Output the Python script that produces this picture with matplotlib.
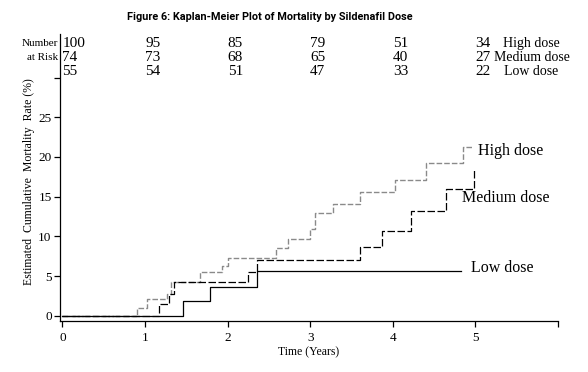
import numpy as np
import matplotlib
matplotlib.use("Agg")
import matplotlib.pyplot as plt

# step curves (time in years, cumulative mortality in %)
high_t = [0, 0.90, 1.02, 1.27, 1.31, 1.66, 1.93, 2.00, 2.59, 2.73, 3.00, 3.06, 3.27, 3.60, 4.03, 4.40, 4.85, 4.97]
high_y = [0, 1.0, 2.1, 2.7, 4.3, 5.5, 6.3, 7.35, 8.5, 9.7, 10.9, 12.95, 14.1, 15.55, 17.05, 19.25, 21.2, 21.2]

medium_t = [0, 1.17, 1.29, 1.35, 2.25, 2.36, 3.60, 3.87, 4.22, 4.64, 4.98]
medium_y = [0, 1.5, 2.7, 4.3, 5.5, 7.05, 8.65, 10.7, 13.15, 16.0, 18.5]

low_t = [0, 1.46, 1.79, 2.36, 4.83]
low_y = [0, 1.9, 3.7, 5.7, 5.7]

# number at risk table
risk_times = [0, 1, 2, 3, 4, 5]
risk_high = [100, 95, 85, 79, 51, 34]
risk_medium = [74, 73, 68, 65, 40, 27]
risk_low = [55, 54, 51, 47, 33, 22]
group_names = ["High dose", "Medium dose", "Low dose"]

plt.rcParams.update({
    'font.family': ['Liberation Serif', 'DejaVu Serif'],
    'font.size': 9,
})

fig = plt.figure(figsize=(5.88, 3.72), dpi=100)
ax = fig.add_axes([0.102, 0.138, 0.847, 0.771])

ax.step(high_t, high_y, where='post', color='#8a8a8a', lw=1.0, dashes=(4, 1.5))
ax.step(medium_t, medium_y, where='post', color='black', lw=0.9, dashes=(6, 2))
ax.step(low_t, low_y, where='post', color='black', lw=0.9)

ax.set_xlim(-0.03, 6)
ax.set_ylim(-0.6, 35.5)
ax.set_xticks(range(0, 7))
ax.set_xticklabels(['0', '1', '2', '3', '4', '5', ''])
ax.set_yticks(range(0, 35, 5))
ax.set_yticklabels(['0', '5', '10', '15', '20', '25', ''])
ax.tick_params(direction='out', length=4, width=0.9, labelsize=9.5)
ax.tick_params(axis='x', pad=4)
ax.tick_params(axis='y', pad=2)
for s in ['top', 'right']:
    ax.spines[s].set_visible(False)
for s in ['left', 'bottom']:
    ax.spines[s].set_linewidth(0.9)

ax.set_xlabel("Time (Years)", fontsize=8.5)
ax.xaxis.set_label_coords(0.5, -0.088)
ax.set_ylabel("Estimated  Cumulative  Mortality  Rate (%)", fontsize=8.5)
ax.yaxis.set_label_coords(-0.05, 0.484)

# curve labels
ax.text(5.03, 20.7, "High dose", fontsize=11.5, va='center', ha='left')
ax.text(4.84, 14.8, "Medium dose", fontsize=11.5, va='center', ha='left')
ax.text(4.95, 6.0, "Low dose", fontsize=11.5, va='center', ha='left')

# number at risk
row_y = [34.3, 32.5, 30.8]
for rows, yy, name in zip([risk_high, risk_medium, risk_low], row_y, group_names):
    for t, n in zip(risk_times, rows):
        ax.text(t, yy, str(n), fontsize=11, ha='left', va='center')
    ax.text(5.68, yy, name, fontsize=10, ha='center', va='center')
ax.text(-0.05, row_y[0], "Number", fontsize=8, ha='right', va='center')
ax.text(-0.05, row_y[1], "at Risk", fontsize=8, ha='right', va='center')

fig.text(270 / 588, 1 - 17 / 372, "Figure 6: Kaplan-Meier Plot of Mortality by Sildenafil Dose",
         family=['Roboto', 'DejaVu Sans'], fontweight='bold', fontsize=7.8,
         ha='center', va='center')

fig.savefig("out.png", dpi=100)
